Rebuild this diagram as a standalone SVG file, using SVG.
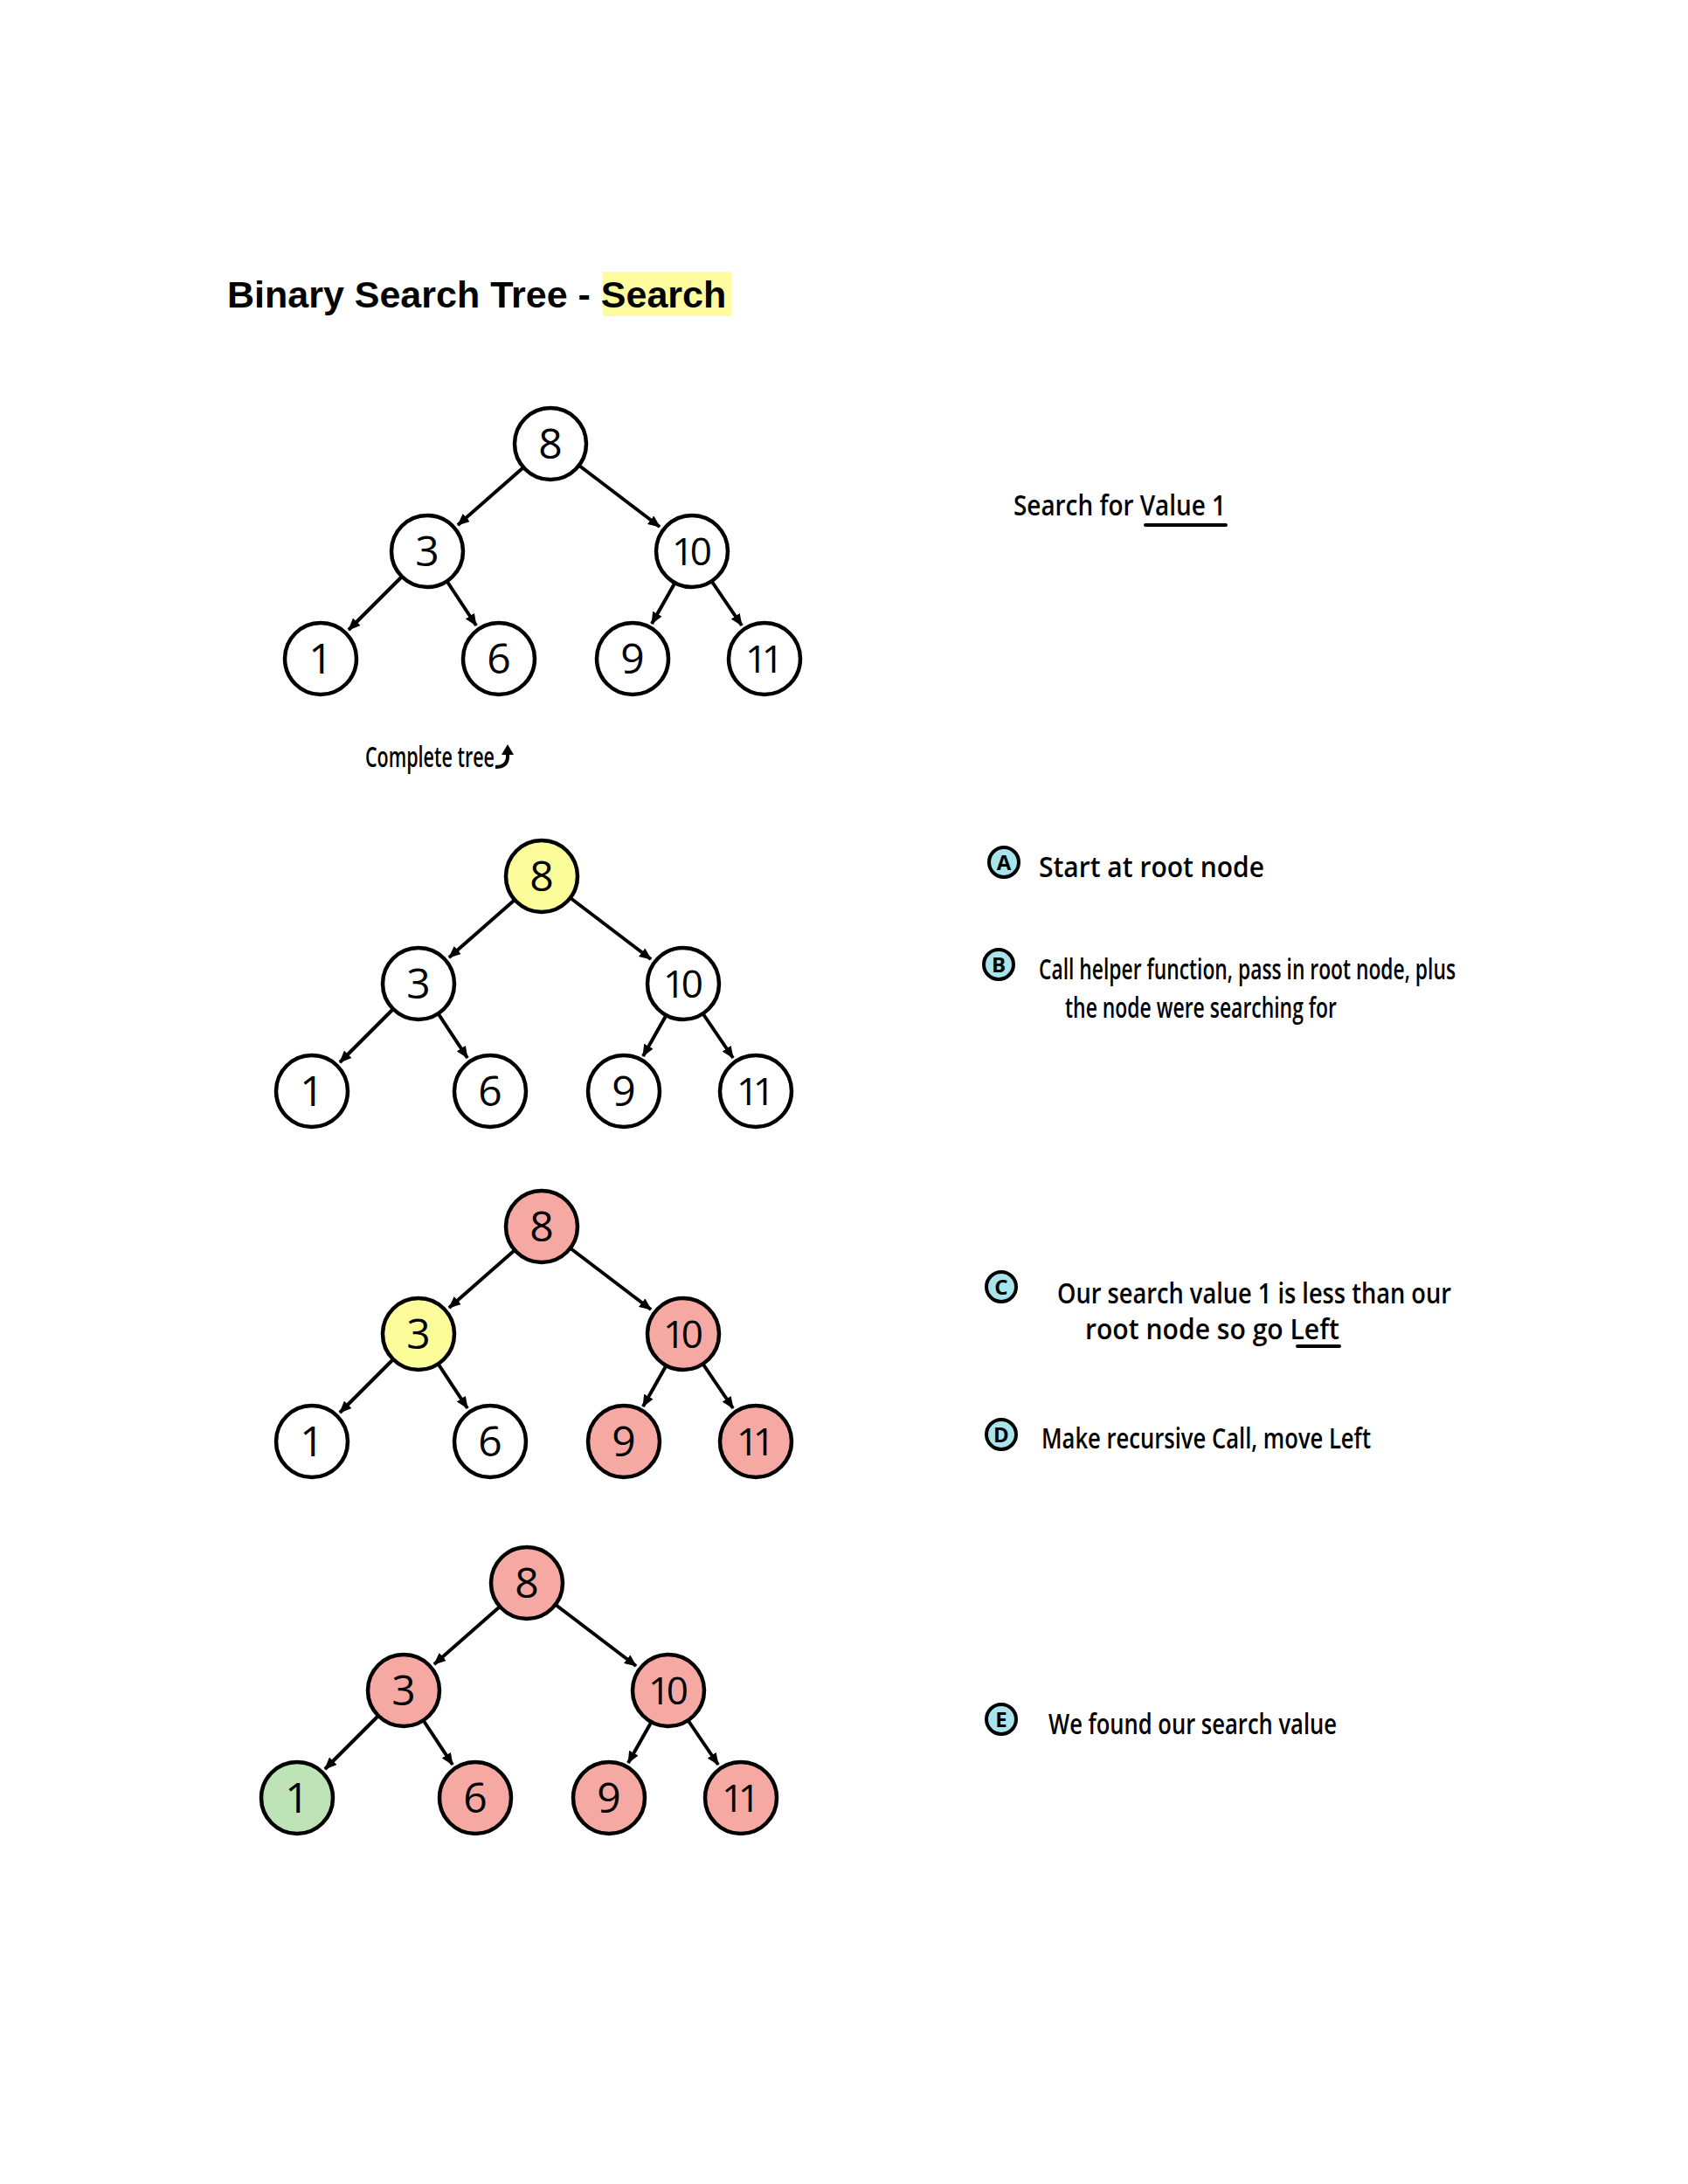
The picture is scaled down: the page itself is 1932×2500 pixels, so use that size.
<svg xmlns="http://www.w3.org/2000/svg" width="1932" height="2500" viewBox="0 0 1932 2500">
<style>
.nd{stroke:#000;stroke-width:4.5}
.w{fill:#fff}.y{fill:#FDFC9B}.r{fill:#F5A9A2}.g{fill:#BEE3B6}
.num{font-family:"Open Sans","DejaVu Sans",sans-serif;font-size:48px;font-weight:500;text-anchor:middle;fill:#000}
.num2{font-size:44px}
.edge{stroke:#000;stroke-width:4;fill:none;marker-end:url(#ah)}
.hw{font-family:"Open Sans","DejaVu Sans",sans-serif;font-size:32px;font-weight:600;fill:#000}
.lc{fill:#A8E4EC;stroke:#000;stroke-width:4}
.lt{font-family:"Open Sans","DejaVu Sans",sans-serif;font-size:24px;font-weight:700;text-anchor:middle;fill:#000}
.ul{stroke:#000;stroke-width:4;stroke-linecap:round}
</style>
<defs>
<marker id="ah" markerUnits="userSpaceOnUse" markerWidth="14" markerHeight="12" refX="13" refY="6" orient="auto">
<path d="M0,0 L14,6 L0,12 z" fill="#000"/>
</marker>
</defs>
<rect width="1932" height="2500" fill="#fff"/>

<g id="title">
<rect x="690" y="311" width="147" height="51" fill="#FEFC9E"/>
<text x="260" y="352" font-family="Liberation Sans, Arial, sans-serif" font-size="43" font-weight="700" fill="#000">Binary Search Tree - Search</text>
</g>

<!-- Tree 1 -->
<g id="tree1">
<g id="t1-edges">
<line class="edge" x1="598" y1="536" x2="524" y2="601"/>
<line class="edge" x1="663" y1="533" x2="755" y2="603"/>
<line class="edge" x1="459" y1="661" x2="399" y2="721"/>
<line class="edge" x1="512" y1="666" x2="545" y2="716"/>
<line class="edge" x1="772" y1="668" x2="746" y2="714"/>
<line class="edge" x1="815" y1="666" x2="849" y2="716"/>
</g>
<g id="t1-n8"><circle class="nd w" cx="630" cy="508" r="41"/><text class="num" x="630" y="525">8</text></g>
<g id="t1-n3"><circle class="nd w" cx="489" cy="631" r="41"/><text class="num" x="489" y="648">3</text></g>
<g id="t1-n10"><circle class="nd w" cx="792" cy="631" r="41"/><text class="num num2" x="792" y="647" textLength="46" lengthAdjust="spacing">10</text></g>
<g id="t1-n1"><circle class="nd w" cx="367" cy="754" r="41"/><text class="num" x="367" y="771">1</text></g>
<g id="t1-n6"><circle class="nd w" cx="571" cy="754" r="41"/><text class="num" x="571" y="771">6</text></g>
<g id="t1-n9"><circle class="nd w" cx="724" cy="754" r="41"/><text class="num" x="724" y="771">9</text></g>
<g id="t1-n11"><circle class="nd w" cx="875" cy="754" r="41"/><text class="num num2" x="875" y="770" textLength="44" lengthAdjust="spacing">11</text></g>
</g>

<g id="complete-note">
<text class="hw" x="418" y="878" textLength="148" lengthAdjust="spacingAndGlyphs" font-size="26">Complete tree</text>
<path d="M567 878 Q581 878 581 866 L581 862" stroke="#000" stroke-width="4" fill="none"/>
<path d="M574 864 L581 852 L588 864 z" fill="#000"/>
</g>

<g id="search-note">
<text class="hw" x="1160" y="590" textLength="243" lengthAdjust="spacingAndGlyphs">Search for Value 1</text>
<line class="ul" x1="1311" y1="601" x2="1403" y2="601"/>
</g>

<!-- Tree 2 -->
<g id="tree2" transform="translate(-10,495)">
<g id="t2-edges">
<line class="edge" x1="598" y1="536" x2="524" y2="601"/>
<line class="edge" x1="663" y1="533" x2="755" y2="603"/>
<line class="edge" x1="459" y1="661" x2="399" y2="721"/>
<line class="edge" x1="512" y1="666" x2="545" y2="716"/>
<line class="edge" x1="772" y1="668" x2="746" y2="714"/>
<line class="edge" x1="815" y1="666" x2="849" y2="716"/>
</g>
<g id="t2-n8"><circle class="nd y" cx="630" cy="508" r="41"/><text class="num" x="630" y="525">8</text></g>
<g id="t2-n3"><circle class="nd w" cx="489" cy="631" r="41"/><text class="num" x="489" y="648">3</text></g>
<g id="t2-n10"><circle class="nd w" cx="792" cy="631" r="41"/><text class="num num2" x="792" y="647" textLength="46" lengthAdjust="spacing">10</text></g>
<g id="t2-n1"><circle class="nd w" cx="367" cy="754" r="41"/><text class="num" x="367" y="771">1</text></g>
<g id="t2-n6"><circle class="nd w" cx="571" cy="754" r="41"/><text class="num" x="571" y="771">6</text></g>
<g id="t2-n9"><circle class="nd w" cx="724" cy="754" r="41"/><text class="num" x="724" y="771">9</text></g>
<g id="t2-n11"><circle class="nd w" cx="875" cy="754" r="41"/><text class="num num2" x="875" y="770" textLength="44" lengthAdjust="spacing">11</text></g>
</g>

<g id="step-A">
<circle class="lc" cx="1149" cy="987" r="17"/><text class="lt" x="1149" y="996">A</text>
<text class="hw" x="1189" y="1004" textLength="258" lengthAdjust="spacingAndGlyphs">Start at root node</text>
</g>
<g id="step-B">
<circle class="lc" cx="1143" cy="1104" r="17"/><text class="lt" x="1143" y="1113">B</text>
<text class="hw" x="1189" y="1121" textLength="477" lengthAdjust="spacingAndGlyphs">Call helper function, pass in root node, plus</text>
<text class="hw" x="1219" y="1165" textLength="311" lengthAdjust="spacingAndGlyphs">the node were searching for</text>
</g>

<!-- Tree 3 -->
<g id="tree3" transform="translate(-10,896)">
<g id="t3-edges">
<line class="edge" x1="598" y1="536" x2="524" y2="601"/>
<line class="edge" x1="663" y1="533" x2="755" y2="603"/>
<line class="edge" x1="459" y1="661" x2="399" y2="721"/>
<line class="edge" x1="512" y1="666" x2="545" y2="716"/>
<line class="edge" x1="772" y1="668" x2="746" y2="714"/>
<line class="edge" x1="815" y1="666" x2="849" y2="716"/>
</g>
<g id="t3-n8"><circle class="nd r" cx="630" cy="508" r="41"/><text class="num" x="630" y="525">8</text></g>
<g id="t3-n3"><circle class="nd y" cx="489" cy="631" r="41"/><text class="num" x="489" y="648">3</text></g>
<g id="t3-n10"><circle class="nd r" cx="792" cy="631" r="41"/><text class="num num2" x="792" y="647" textLength="46" lengthAdjust="spacing">10</text></g>
<g id="t3-n1"><circle class="nd w" cx="367" cy="754" r="41"/><text class="num" x="367" y="771">1</text></g>
<g id="t3-n6"><circle class="nd w" cx="571" cy="754" r="41"/><text class="num" x="571" y="771">6</text></g>
<g id="t3-n9"><circle class="nd r" cx="724" cy="754" r="41"/><text class="num" x="724" y="771">9</text></g>
<g id="t3-n11"><circle class="nd r" cx="875" cy="754" r="41"/><text class="num num2" x="875" y="770" textLength="44" lengthAdjust="spacing">11</text></g>
</g>

<g id="step-C">
<circle class="lc" cx="1146" cy="1473" r="17"/><text class="lt" x="1146" y="1482">C</text>
<text class="hw" x="1210" y="1492" textLength="451" lengthAdjust="spacingAndGlyphs">Our search value 1 is less than our</text>
<text class="hw" x="1242" y="1533" textLength="291" lengthAdjust="spacingAndGlyphs">root node so go Left</text>
<line class="ul" x1="1485" y1="1541" x2="1533" y2="1541"/>
</g>
<g id="step-D">
<circle class="lc" cx="1146" cy="1642" r="17"/><text class="lt" x="1146" y="1651">D</text>
<text class="hw" x="1192" y="1658" textLength="377" lengthAdjust="spacingAndGlyphs">Make recursive Call, move Left</text>
</g>

<!-- Tree 4 -->
<g id="tree4" transform="translate(-27,1304)">
<g id="t4-edges">
<line class="edge" x1="598" y1="536" x2="524" y2="601"/>
<line class="edge" x1="663" y1="533" x2="755" y2="603"/>
<line class="edge" x1="459" y1="661" x2="399" y2="721"/>
<line class="edge" x1="512" y1="666" x2="545" y2="716"/>
<line class="edge" x1="772" y1="668" x2="746" y2="714"/>
<line class="edge" x1="815" y1="666" x2="849" y2="716"/>
</g>
<g id="t4-n8"><circle class="nd r" cx="630" cy="508" r="41"/><text class="num" x="630" y="525">8</text></g>
<g id="t4-n3"><circle class="nd r" cx="489" cy="631" r="41"/><text class="num" x="489" y="648">3</text></g>
<g id="t4-n10"><circle class="nd r" cx="792" cy="631" r="41"/><text class="num num2" x="792" y="647" textLength="46" lengthAdjust="spacing">10</text></g>
<g id="t4-n1"><circle class="nd g" cx="367" cy="754" r="41"/><text class="num" x="367" y="771">1</text></g>
<g id="t4-n6"><circle class="nd r" cx="571" cy="754" r="41"/><text class="num" x="571" y="771">6</text></g>
<g id="t4-n9"><circle class="nd r" cx="724" cy="754" r="41"/><text class="num" x="724" y="771">9</text></g>
<g id="t4-n11"><circle class="nd r" cx="875" cy="754" r="41"/><text class="num num2" x="875" y="770" textLength="44" lengthAdjust="spacing">11</text></g>
</g>

<g id="step-E">
<circle class="lc" cx="1146" cy="1968" r="17"/><text class="lt" x="1146" y="1977">E</text>
<text class="hw" x="1200" y="1985" textLength="330" lengthAdjust="spacingAndGlyphs">We found our search value</text>
</g>
</svg>
